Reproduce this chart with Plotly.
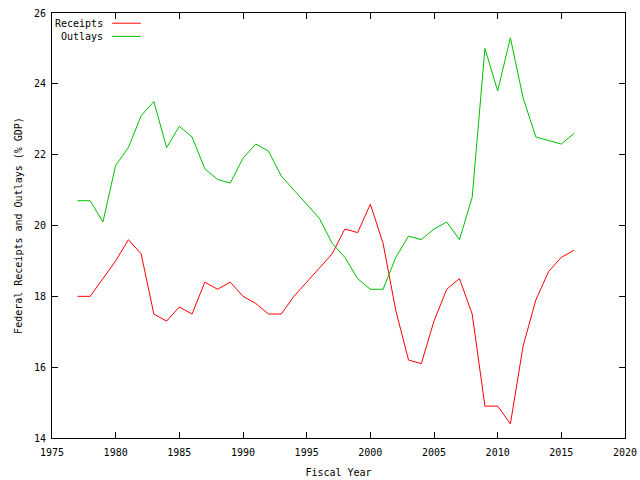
import plotly.graph_objects as go

years = list(range(1977, 2017))
receipts = [18.0, 18.0, 18.5, 19.0, 19.6, 19.2, 17.5, 17.3, 17.7, 17.5,
            18.4, 18.2, 18.4, 18.0, 17.8, 17.5, 17.5, 18.0, 18.4, 18.8,
            19.2, 19.9, 19.8, 20.6, 19.5, 17.6, 16.2, 16.1, 17.3, 18.2,
            18.5, 17.5, 14.9, 14.9, 14.4, 16.6, 17.9, 18.7, 19.1, 19.3]
outlays = [20.7, 20.7, 20.1, 21.7, 22.2, 23.1, 23.5, 22.2, 22.8, 22.5,
           21.6, 21.3, 21.2, 21.9, 22.3, 22.1, 21.4, 21.0, 20.6, 20.2,
           19.5, 19.1, 18.5, 18.2, 18.2, 19.1, 19.7, 19.6, 19.9, 20.1,
           19.6, 20.8, 25.0, 23.8, 25.3, 23.6, 22.5, 22.4, 22.3, 22.6]
series_names = ["Receipts", "Outlays"]
colors = ["#ff0000", "#00c000"]

FONT = "DejaVu Sans Mono"
FS = 10

fig = go.Figure()
for name, vals, c in zip(series_names, [receipts, outlays], colors):
    fig.add_trace(go.Scatter(x=years, y=vals, mode="lines", name=name,
                             line=dict(color=c, width=1), showlegend=False))

# gnuplot-style legend (text then sample line), top-left inside
for i, (name, c) in enumerate(zip(series_names, colors)):
    yp = 0.976 - i * 0.031
    fig.add_annotation(x=0.093, y=yp, xref="paper", yref="paper", text=name,
                       showarrow=False, xanchor="right", yanchor="middle",
                       font=dict(family=FONT, size=FS, color="black"))
    fig.add_shape(type="line", xref="paper", yref="paper",
                  x0=0.105, x1=0.155, y0=yp, y1=yp, line=dict(color=c, width=1))

fig.update_layout(
    width=640, height=480,
    margin=dict(l=52, r=15, t=13, b=42, autoexpand=False),
    paper_bgcolor="white", plot_bgcolor="white",
    font=dict(family=FONT, size=FS, color="black"),
)
fig.update_xaxes(range=[1975, 2020], dtick=5, tick0=1975, ticks="inside",
                 ticklen=6, tickcolor="black", showline=True, linecolor="black",
                 linewidth=1, mirror="ticks", showgrid=False, zeroline=False,
                 automargin=False, ticklabelstandoff=5,
                 title=dict(text="Fiscal Year", font=dict(family=FONT, size=FS), standoff=11))
fig.update_yaxes(range=[14, 26], dtick=2, tick0=14, ticks="inside",
                 ticklen=6, tickcolor="black", showline=True, linecolor="black",
                 linewidth=1, mirror="ticks", showgrid=False, zeroline=False,
                 automargin=False, ticklabelstandoff=3,
                 title=dict(text="Federal Receipts and Outlays (% GDP)",
                            font=dict(family=FONT, size=FS), standoff=9))

# remove the page's default body margin so the figure fills the window
fig.write_html("out.html", config={"displayModeBar": False},
               post_script="document.body.style.margin='0';")
